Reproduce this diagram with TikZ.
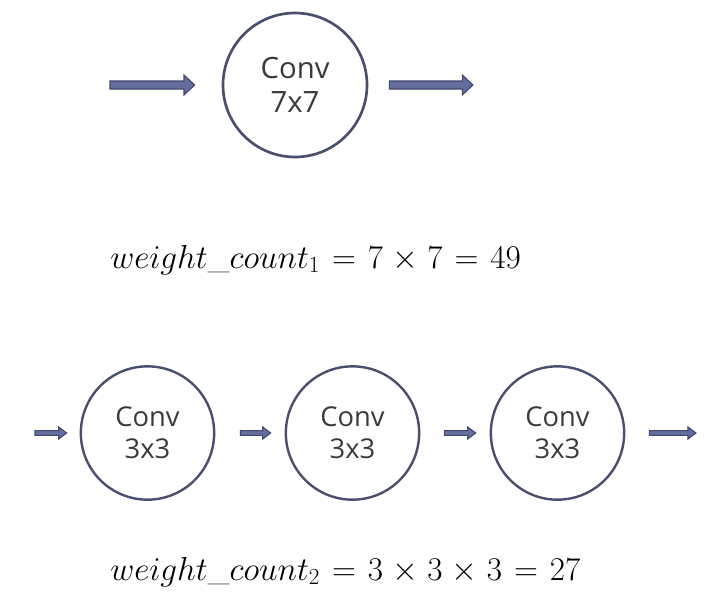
\documentclass[tikz,border=0pt]{standalone}
\usepackage{fontspec}
\newfontfamily\convfont{Open Sans}
\usetikzlibrary{calc}
\definecolor{ringc}{HTML}{4B4F6E}
\definecolor{arrfill}{HTML}{646E9E}
\definecolor{arrline}{HTML}{41476F}
\definecolor{txtc}{HTML}{3A3A3A}
\tikzset{
  convnode/.style={circle, draw=ringc, line width=2pt, text=txtc, align=center, inner sep=0pt},
  bigconv/.style={convnode, minimum size=108pt, font=\convfont\fontsize{22}{25}\selectfont},
  smallconv/.style={convnode, minimum size=100pt, line width=1.8pt, font=\convfont\fontsize{20.5}{24}\selectfont},
  blockarr/.style={fill=arrfill, draw=arrline, line width=0.8pt, line join=miter},
  formula/.style={anchor=base west, inner sep=0pt, font=\fontsize{23.8}{28}\selectfont}
}
\medmuskip=5mu plus 2mu
% \blockarrow{from}{to}{shaft half}{head half}{head length}  (lengths in pt)
\newcommand\blockarrow[5]{%
  \draw[blockarr] let \p1=(#1), \p2=(#2) in
    (\x1,\y1+#3) -- (\x2-#5,\y1+#3) -- (\x2-#5,\y1+#4) -- (\x2,\y1)
    -- (\x2-#5,\y1-#4) -- (\x2-#5,\y1-#3) -- (\x1,\y1-#3) -- cycle;}
\begin{document}
\begin{tikzpicture}[x=0.75pt,y=-0.75pt]
\useasboundingbox (0,0) rectangle (717,612);
% top
\node[bigconv] (c7) at (295,85) {Conv\\7x7};
\coordinate (t1) at (110,85);
\coordinate (t2) at ($(c7.west)+(-27,0)$);
\coordinate (t3) at ($(c7.east)+(21,0)$);
\coordinate (t4) at (473,85);
\blockarrow{t1}{t2}{3pt}{7.5pt}{8pt}
\blockarrow{t3}{t4}{3pt}{7.5pt}{8pt}
\node[formula] (f1) at (110,268) {$\thickmuskip=6.5mu weight\_count_1 = 7\times 7 = 49$};
% bottom
\node[smallconv] (a) at (147.5,433) {Conv\\3x3};
\node[smallconv] (b) at (352.5,433) {Conv\\3x3};
\node[smallconv] (c) at (557.5,433) {Conv\\3x3};
\coordinate (s0) at (35,433);
\coordinate (s4) at (696,433);
\blockarrow{s0}{$(a.west)+(-13,0)$}{1.8pt}{4.5pt}{6pt}
\blockarrow{$(a.east)+(25,0)$}{$(b.west)+(-14,0)$}{1.8pt}{4.5pt}{6pt}
\blockarrow{$(b.east)+(24,0)$}{$(c.west)+(-14,0)$}{1.8pt}{4.5pt}{6pt}
\blockarrow{$(c.east)+(24,0)$}{s4}{1.8pt}{4.5pt}{6pt}
\node[formula] (f2) at (110,580) {$\thickmuskip=6.5mu weight\_count_2 = 3\times 3\times 3 = 27$};
\end{tikzpicture}
\end{document}
